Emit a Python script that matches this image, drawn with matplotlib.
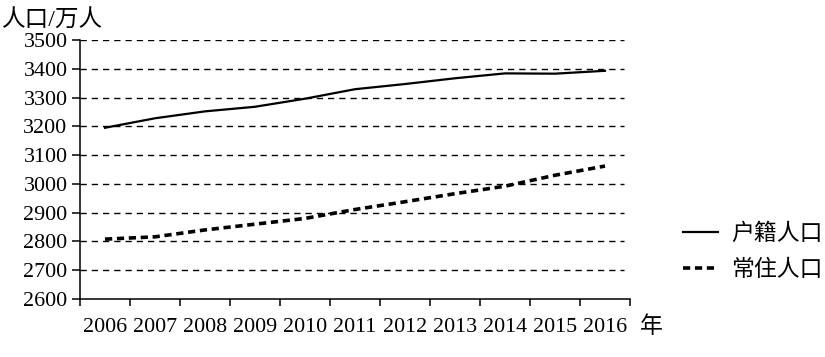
import matplotlib
matplotlib.use('Agg')
import matplotlib.pyplot as plt
from matplotlib.ticker import FixedLocator

plt.rcParams['font.family'] = ['Liberation Serif', 'Noto Sans CJK SC']

# 数据
years = ['2006', '2007', '2008', '2009', '2010', '2011',
         '2012', '2013', '2014', '2015', '2016']
huji = [3195, 3228, 3252, 3268, 3296, 3329, 3347, 3367, 3384, 3383, 3393]
changzhu = [2808, 2816, 2840, 2860, 2880, 2911, 2938, 2966, 2992, 3030, 3062]
yticks = [2600, 2700, 2800, 2900, 3000, 3100, 3200, 3300, 3400, 3500]

fig = plt.figure(figsize=(8.25, 3.57), dpi=100)
ax = fig.add_axes([80/825, 1-299/357, 550/825, 259/357])

x = list(range(len(years)))
ax.plot(x, huji, color='black', lw=1.6, label='户籍人口')
ax.plot(x, changzhu, color='black', lw=2.6, dashes=(2.0, 1.3), label='常住人口')

ax.set_xlim(-0.5, len(years) - 0.5)
ax.set_ylim(2600, 3500)
ax.set_yticks(yticks)
ax.set_xticks(x)
ax.set_xticklabels(years)
ax.xaxis.set_minor_locator(FixedLocator([i - 0.5 for i in range(len(years) + 1)]))

for v in yticks[1:]:
    ax.axhline(v, xmax=0.99, color='black', lw=1.0, dashes=(4.5, 3.6), zorder=0)

for s in ['top', 'right']:
    ax.spines[s].set_visible(False)
for s in ['left', 'bottom']:
    ax.spines[s].set_linewidth(1.1)

ax.tick_params(axis='y', length=6, width=1.1, pad=3, labelsize=15.8)
ax.tick_params(axis='x', which='major', length=0, pad=14, labelsize=15.8)
ax.tick_params(axis='x', which='minor', length=5, width=1.1, direction='out')

fig.text(0.003, 0.975, '人口/万人', fontsize=17, va='top', ha='left')
fig.text(640/825, 1-327/357, '年', fontsize=16.5, va='center', ha='left')

ax.legend(loc='center left', bbox_to_anchor=(1.08, 0.18), frameon=False,
          fontsize=16.5, handlelength=1.5, handletextpad=0.6, labelspacing=0.65,
          borderaxespad=0)

plt.savefig('out.png', dpi=100)
